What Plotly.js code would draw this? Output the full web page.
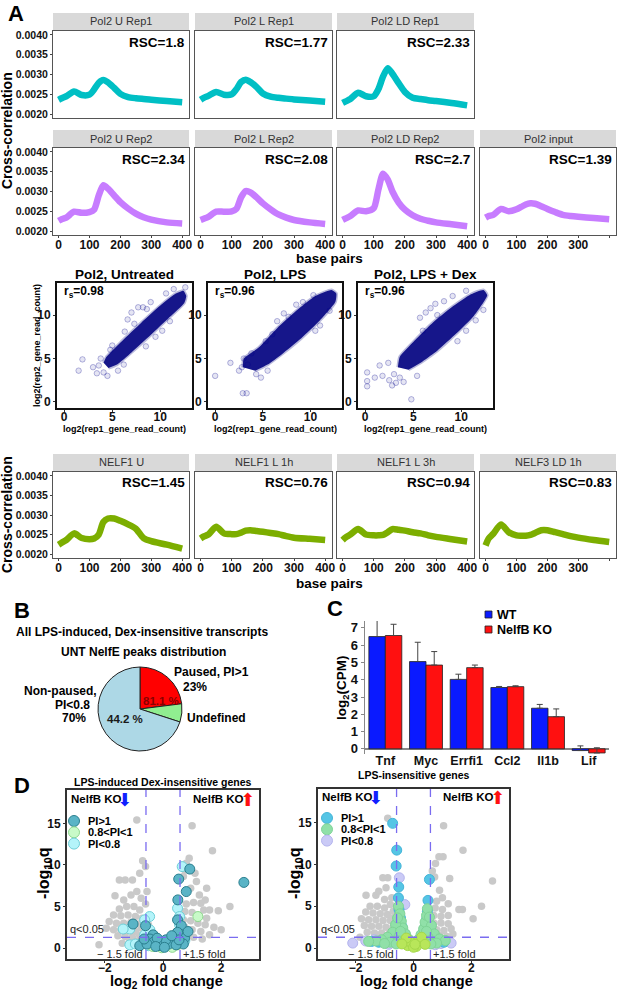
<!DOCTYPE html>
<html>
<head>
<meta charset="utf-8">
<script src="https://cdn.plot.ly/plotly-3.0.1.min.js"></script>
<style>
  html, body { margin: 0; padding: 0; background: #fff; }
  #plot { width: 617px; height: 990px; }
</style>
</head>
<body>
<div id="plot"></div>
<script>
// ---- data ----
var bp = [0, 10, 25, 50, 75, 100, 115, 130, 145, 160, 180, 200, 225, 250, 275, 300, 350, 400];

var pol2URep1  = [0.00236,0.00240,0.00245,0.00257,0.00248,0.00249,0.00262,0.00279,0.00286,0.00280,0.00266,0.00251,0.00243,0.00240,0.00238,0.00236,0.00233,0.00230];
var pol2LRep1  = [0.00236,0.00241,0.00246,0.00256,0.00249,0.00250,0.00263,0.00281,0.00287,0.00281,0.00268,0.00252,0.00244,0.00241,0.00239,0.00237,0.00234,0.00231];
var pol2LDRep1 = [0.00228,0.00232,0.00238,0.00254,0.00245,0.00245,0.00263,0.00295,0.00316,0.00302,0.00278,0.00256,0.00241,0.00238,0.00235,0.00233,0.00228,0.00222];
var pol2URep2  = [0.00226,0.00230,0.00234,0.00249,0.00246,0.00248,0.00254,0.00290,0.00316,0.00307,0.00290,0.00273,0.00257,0.00244,0.00235,0.00229,0.00222,0.00219];
var pol2LRep2  = [0.00228,0.00231,0.00236,0.00249,0.00249,0.00250,0.00256,0.00285,0.00301,0.00298,0.00285,0.00270,0.00255,0.00242,0.00234,0.00228,0.00222,0.00218];
var pol2LDRep2 = [0.00228,0.00232,0.00238,0.00252,0.00250,0.00258,0.00305,0.00345,0.00330,0.00300,0.00272,0.00254,0.00240,0.00231,0.00226,0.00222,0.00217,0.00212];
var pol2Input  = [0.00234,0.00238,0.00241,0.00256,0.00250,0.00255,0.00261,0.00267,0.00270,0.00269,0.00263,0.00256,0.00248,0.00241,0.00238,0.00236,0.00233,0.00230];
var nelf1U     = [0.00224,0.00229,0.00236,0.00253,0.00241,0.00238,0.00240,0.00250,0.00282,0.00291,0.00291,0.00285,0.00276,0.00265,0.00241,0.00233,0.00224,0.00214];
var nelf1L1h   = [0.00240,0.00245,0.00250,0.00270,0.00253,0.00251,0.00251,0.00255,0.00260,0.00261,0.00259,0.00257,0.00254,0.00251,0.00246,0.00242,0.00239,0.00236];
var nelf1L3h   = [0.00236,0.00243,0.00250,0.00264,0.00250,0.00248,0.00248,0.00249,0.00256,0.00264,0.00262,0.00260,0.00256,0.00253,0.00248,0.00244,0.00238,0.00232];
var nelf3LD1h  = [0.00222,0.00240,0.00252,0.00276,0.00256,0.00248,0.00247,0.00247,0.00249,0.00254,0.00261,0.00261,0.00256,0.00251,0.00246,0.00242,0.00236,0.00231];

var ccTitles = ['Pol2 U Rep1','Pol2 L Rep1','Pol2 LD Rep1','Pol2 U Rep2','Pol2 L Rep2','Pol2 LD Rep2','Pol2 input','NELF1 U','NELF1 L 1h','NELF1 L 3h','NELF3 LD 1h'];
var ccRSC = ['RSC=1.8','RSC=1.77','RSC=2.33','RSC=2.34','RSC=2.08','RSC=2.7','RSC=1.39','RSC=1.45','RSC=0.76','RSC=0.94','RSC=0.83'];
var ccValues = [pol2URep1, pol2LRep1, pol2LDRep1, pol2URep2, pol2LRep2, pol2LDRep2, pol2Input, nelf1U, nelf1L1h, nelf1L3h, nelf3LD1h];

// replicate scatter: dense core outline + visible outliers (log2 read counts)
var scTitles = ['Pol2, Untreated', 'Pol2, LPS', 'Pol2, LPS + Dex'];
var scRs = ['0.98', '0.96', '0.96'];
var sc1Core = [[4.1,4.5],[4.4,5.2],[6,7.0],[8,9.1],[10,11.1],[11.5,12.4],[12.4,12.8],[12.7,12.2],[12.5,11.4],[11,9.8],[9,7.7],[7,5.7],[5.5,4.3],[4.6,3.9]];
var sc2Core = [[2.9,4.0],[3.0,5.0],[4.5,6.2],[6.5,8.5],[8.5,10.5],[10.5,12.2],[12.2,12.9],[12.7,12.5],[12.6,11.5],[11,9.4],[9,7.3],[7,5.5],[5.5,4.3],[4.2,3.6]];
var sc3Core = [[3.4,4.0],[3.6,5.2],[5.0,6.9],[7,9.1],[9,10.9],[11,12.4],[12.3,12.9],[12.7,12.3],[11.3,9.9],[9.5,7.9],[7.5,5.9],[6,4.7],[4.5,3.7]];
var sc1Out = [[1.5,3.6],[1.9,4.9],[3.0,4.0],[3.4,3.3],[3.6,4.2],[4.1,3.4],[4.5,3.0],[3.8,5.0],[6.6,9.5],[7.0,10.3],[7.7,10.9],[8.2,10.9],[8.6,10.7],[7.3,9.0],[6.3,8.1],[9.0,11.5],[10.6,12.5],[11.4,13.0],[10.2,8.2],[11.0,9.3],[9.5,7.5],[5.6,3.6],[6.2,4.3],[8.5,6.4],[12.6,13.2],[5.0,6.5],[4.8,6.0]];
var sc2Out = [[0,3.0],[2.9,1.0],[3.3,1.0],[1.6,4.5],[2.8,4.0],[3.4,4.3],[3.0,5.0],[6.5,9.3],[7.2,10.2],[7.7,9.8],[8.5,11.2],[9.2,11.5],[10.3,12.3],[11.0,8.8],[10.5,8.2],[12.0,10.5],[4.8,2.8],[5.5,3.6],[4.3,3.2],[5.3,7.0],[6.0,7.8],[2.5,3.6],[3.8,5.6]];
var sc3Out = [[0.2,3.4],[0.2,2.4],[0.2,1.8],[1.0,2.8],[1.8,3.0],[2.5,2.5],[2.8,1.9],[3.2,2.2],[4.0,2.3],[4.8,0.3],[5.4,3.0],[1.5,4.2],[2.4,4.5],[5.7,9.7],[6.3,10.3],[6.8,10.8],[7.3,11.3],[8.2,11.6],[9.1,12.2],[10.5,12.8],[7.5,10.0],[9.6,7.0],[10.5,8.2],[11.5,9.4],[12.3,10.6],[6.0,8.2],[3.0,3.2],[3.6,2.8]];

// panel B pie
var pieLabels = ['Paused, PI>1', 'Undefined', 'Non-paused, PI<0.8'];
var pieValues = [23, 7, 70];

// panel C bars
var genes = ['Tnf', 'Myc', 'Errfi1', 'Ccl2', 'Il1b', 'Lif'];
var wtVals = [6.50, 5.05, 4.02, 3.55, 2.35, -0.10];
var wtErr  = [0.93, 1.12, 0.30, 0.06, 0.22, 0.27];
var koVals = [6.56, 4.85, 4.70, 3.60, 1.86, -0.24];
var koErr  = [0.65, 0.78, 0.15, 0.05, 0.45, 0.30];

// panel D volcano (log2 fold change, -log10 q)
var volcLGray = [[-0.9,15.4],[1.0,14.7],[1.7,11.7],[0.9,10.8],[0.8,10.2],[-0.7,10.5],[-0.6,9.8],[-0.8,9.0],[-1.05,8.2],[-1.3,8.2],[-1.5,8.2],[0.75,9.4],[0.7,8.6],[1.1,9.0],[1.15,8.0],[1.5,7.2],[1.25,6.4],[0.95,7.2],[-1.65,6.3],[-1.35,5.8],[-1.1,6.4],[-0.9,6.8],[-0.75,6.0],[-1.25,5.0],[-1.0,5.0],[-0.8,4.6],[-1.5,4.7],[-1.7,4.0],[-1.45,3.9],[-1.2,4.0],[-0.95,3.8],[-0.72,3.6],[-1.85,3.2],[-1.6,3.0],[-1.35,3.0],[-1.1,3.1],[-0.85,2.9],[-1.95,2.4],[-1.7,2.2],[-1.45,2.2],[-1.2,2.1],[-0.95,2.0],[-0.75,2.4],[-1.55,1.5],[-1.3,1.4],[-1.05,1.3],[-0.8,1.5],[-2.2,0.4],[-1.4,0.6],[-1.15,0.8],[-0.9,0.8],[1.4,4.6],[1.6,4.6],[2.3,5.0],[0.8,5.3],[1.05,5.5],[1.3,5.4],[0.75,4.4],[1.0,4.3],[1.25,3.9],[1.5,3.6],[0.7,3.4],[0.95,3.3],[1.2,3.0],[1.45,2.8],[1.75,2.5],[0.75,2.5],[1.0,2.2],[1.3,2.0],[1.6,1.6],[0.8,1.6],[1.05,1.3],[1.35,1.1],[-0.5,2.8],[-0.45,1.8],[0.45,2.0],[0.42,1.2],[-0.6,0.9],[0.6,0.8],[2.0,2.2],[0.55,4.0],[-0.3,0.5],[0.3,0.4],[-0.15,0.9],[0.15,0.8],[-0.4,1.4],[0.35,1.5],[1.9,4.5],[1.45,5.8],[-0.55,6.8],[-0.6,5.3]];
var volcLPaused = [[2.78,7.9],[0.92,9.5],[0.54,8.3],[0.8,6.8],[0.51,5.8],[-1.03,2.9],[-0.6,2.7],[0.5,3.4],[0.63,2.7],[-0.34,1.6],[0.69,1.6],[-0.8,0.3],[-0.51,0.8],[0.74,1.2],[0.86,2.0],[0.5,1.9],[-0.45,1.1],[-0.3,0.8],[0.35,0.9],[-0.55,0.5],[0.7,0.5],[-0.1,0.3],[0.2,0.5],[0.1,1.0],[-0.2,1.2],[0.45,0.4],[0.55,1.0],[-0.65,1.1],[0.3,1.5],[-0.25,0.2],[0.05,0.1]];
var volcLMid = [[1.2,3.8],[0.1,0.2],[-0.1,0.5],[0.25,0.3],[0.05,0.6],[-0.25,0.45],[0.32,0.1],[0.4,0.75],[-0.35,0.2],[0.15,0.9],[-0.05,0.05],[0.5,0.4]];
var volcLNonpaused = [[0.66,9.8],[0.5,4.8],[0.57,3.8],[-0.46,3.8],[-0.63,3.4],[-1.14,2.3],[-1.37,2.3],[-0.63,1.6],[0.57,2.8],[-0.8,0.45],[-1.14,0.4],[-0.95,0.5],[0.62,2.0],[-0.45,2.2],[-0.2,0.6],[0.25,0.7],[0.4,1.3],[-0.5,0.3],[0.75,0.9],[-0.3,1.3]];

var volcRGray = [[-0.89,15.5],[1.04,14.6],[1.71,11.7],[0.88,10.9],[1.02,10.9],[0.76,10.1],[0.65,9.2],[0.73,8.5],[1.25,8.3],[2.73,8.0],[-0.89,8.4],[-1.06,8.4],[-1.64,6.3],[-1.3,6.3],[-1.2,6.8],[-1.0,5.8],[2.35,5.0],[1.57,4.6],[1.69,4.6],[2.06,3.5],[1.36,1.7],[0.9,6.9],[1.0,6.0],[0.8,5.6],[1.2,5.3],[-1.5,5.0],[-1.25,5.0],[-1.0,4.8],[-0.8,5.2],[-1.65,4.3],[-1.4,4.2],[-1.15,4.1],[-0.9,4.0],[-0.7,4.4],[-1.8,3.5],[-1.55,3.4],[-1.3,3.4],[-1.05,3.3],[-0.8,3.3],[-1.7,2.7],[-1.45,2.6],[-1.2,2.6],[-0.95,2.5],[-0.7,2.6],[-1.6,1.9],[-1.35,1.8],[-1.1,1.8],[-0.85,1.7],[-1.85,1.3],[-1.2,1.2],[-0.95,1.2],[-0.7,3.6],[-0.75,6.0],[-0.95,7.2],[0.75,4.8],[1.0,4.6],[0.7,3.9],[0.95,3.8],[1.2,3.9],[0.7,3.0],[0.95,3.0],[1.2,2.9],[0.8,2.2],[1.05,2.1],[1.3,2.3],[0.9,1.5],[1.15,1.4],[0.75,1.5]];
var volcRPaused = [[-0.72,14.9],[-0.58,11.7],[-0.6,9.8],[-0.51,7.3],[-0.52,6.0],[0.55,8.2],[0.5,5.7],[-0.5,4.6],[0.48,4.4],[-0.45,3.6],[0.45,3.4],[-0.4,2.6],[0.4,2.5],[-0.3,1.7],[0.32,1.6],[-0.9,0.9],[0.85,0.9],[-1.2,0.7],[-0.65,1.1],[0.62,1.2],[-1.45,0.8],[1.05,0.7],[-0.6,2.0],[0.6,2.1],[-0.2,0.6],[0.2,0.6]];
var volcRMid = [[-0.52,5.0],[-0.47,4.1],[-0.42,3.2],[-0.37,2.4],[-0.28,1.7],[-0.18,1.1],[0.0,0.5],[0.16,1.0],[0.26,1.6],[0.35,2.3],[0.4,3.1],[0.45,3.9],[0.48,4.7],[-0.62,2.8],[-0.72,1.9],[-0.9,1.3],[-1.1,1.0],[-1.3,0.85],[-1.55,0.8],[0.62,2.7],[0.72,1.7],[0.9,1.1],[1.1,0.9],[-0.55,3.6],[0.55,3.7],[-0.5,1.4],[0.5,1.3],[-0.8,0.7],[0.8,0.6],[-0.35,0.8],[0.35,0.8],[-1.0,0.55],[-0.6,0.5],[0.6,0.5],[-0.45,2.0],[0.45,2.0]];
var volcRCenter = [[-0.2,0.3],[0.1,0.2],[-0.1,0.7],[0.2,0.9],[-0.25,1.2],[0.28,1.3],[0,0.1],[-0.4,0.5],[0.4,0.45],[0.05,0.45]];
var volcRNonpaused = [[-0.49,8.4],[-2.1,0.6],[-1.65,0.85],[1.2,0.8],[0.95,0.55],[-1.35,1.0],[0.75,0.4],[-0.3,5.2],[-0.85,0.45],[1.3,0.6]];

// ---- layout helpers (pixel positions in a 617x990 page) ----
var W = 617, H = 990;
var FONT = 'Liberation Sans, Arial, Helvetica, sans-serif';
function dom(a, b, isY) { return isY ? [1 - b / H, 1 - a / H] : [a / W, b / W]; }
function ann(text, x, y, size, o) {
    o = o || {};
    return {
        xref: 'paper', yref: 'paper', x: x / W, y: 1 - y / H, text: text, showarrow: false,
        font: { family: o.family || FONT, size: size, color: o.color || '#000' },
        xanchor: o.xanchor || 'center', yanchor: o.yanchor || 'middle', textangle: o.angle || 0
    };
}
function xs(pts) { return pts.map(function(p) { return p[0]; }); }
function ys(pts) { return pts.map(function(p) { return p[1]; }); }
function bold(size) { return { family: FONT, size: size, color: '#111', weight: 'bold' }; }

var traces = [], shapes = [], anns = [];
var layout = {
    width: W, height: H, margin: { l: 0, r: 0, t: 0, b: 0 },
    paper_bgcolor: '#fff', plot_bgcolor: '#fff', showlegend: false, hovermode: false
};

// ---- panel A: cross-correlation ----
var ccCols = [[53, 189], [195, 332], [337, 474], [480, 616]];
var ccRows = [[31, 118], [148, 235], [472, 558]];
var ccGrid = [[0,0],[0,1],[0,2],[1,0],[1,1],[1,2],[1,3],[2,0],[2,1],[2,2],[2,3]];
var ccColors = ['#00bfc4', '#c77cff', '#7cae00'];

for (var i = 0; i < ccTitles.length; i++) {
    var r = ccGrid[i][0], c = ccGrid[i][1], n = i + 1, s = n === 1 ? '' : String(n);
    var xr = ccCols[c], yr = ccRows[r];
    traces.push({
        x: bp, y: ccValues[i], xaxis: 'x' + s, yaxis: 'y' + s, type: 'scatter', mode: 'lines',
        line: { color: ccColors[r], width: 6.5, shape: 'spline', smoothing: 0.7 }, hoverinfo: 'skip'
    });
    layout['xaxis' + s] = {
        domain: dom(xr[0], xr[1]), anchor: 'y' + s, range: [-18, 422], tickvals: [0, 100, 200, 300, 400],
        showticklabels: r > 0, ticks: r > 0 ? 'outside' : '', ticklen: 2, tickcolor: '#444', ticklabelstandoff: -3,
        showline: true, mirror: true, linecolor: '#555', linewidth: 1, showgrid: false, zeroline: false,
        tickfont: bold(12)
    };
    layout['yaxis' + s] = {
        domain: dom(yr[0], yr[1], true), anchor: 'x' + s, range: [0.0019, 0.0041],
        tickvals: [0.002, 0.0025, 0.003, 0.0035, 0.004], ticktext: ['0.0020', '0.0025', '0.0030', '0.0035', '0.0040'],
        showticklabels: c === 0, ticks: c === 0 ? 'outside' : '', ticklen: 2, tickcolor: '#444',
        showline: true, mirror: true, linecolor: '#555', linewidth: 1, showgrid: false, zeroline: false,
        tickfont: bold(10.5)
    };
    shapes.push({ type: 'rect', xref: 'paper', yref: 'paper', x0: xr[0] / W, x1: xr[1] / W,
        y0: 1 - (yr[0] - 1) / H, y1: 1 - (yr[0] - 18) / H, fillcolor: '#d9d9d9', line: { width: 0 } });
    anns.push(ann(ccTitles[i], (xr[0] + xr[1]) / 2, yr[0] - 9.5, 11, { color: '#333' }));
    anns.push(ann('<b>' + ccRSC[i] + '</b>', xr[1] - 2, yr[0] + 11, 13.5, { xanchor: 'right' }));
}
anns.push(ann('<b>A</b>', 16, 14, 22));
anns.push(ann('<b>Cross-correlation</b>', 7, 131, 14, { angle: -90 }));
anns.push(ann('<b>Cross-correlation</b>', 7, 515, 14, { angle: -90 }));
anns.push(ann('<b>base pairs</b>', 330, 258, 13.5));
anns.push(ann('<b>base pairs</b>', 330, 583, 13.5));

// ---- panel A: replicate scatter ----
var scCols = [[57, 192], [208, 342], [358, 493]];
var scCores = [sc1Core, sc2Core, sc3Core];
var scOuts = [sc1Out, sc2Out, sc3Out];
for (var j = 0; j < 3; j++) {
    var m = String(12 + j);
    traces.push({
        x: xs(scCores[j]), y: ys(scCores[j]), xaxis: 'x' + m, yaxis: 'y' + m, type: 'scatter', mode: 'lines',
        fill: 'toself', fillcolor: '#16168a', line: { color: 'rgba(22,22,138,0.3)', width: 3, shape: 'spline', smoothing: 0.5 },
        hoverinfo: 'skip'
    });
    traces.push({
        x: xs(scOuts[j]), y: ys(scOuts[j]), xaxis: 'x' + m, yaxis: 'y' + m, type: 'scatter', mode: 'markers',
        marker: { size: 5.5, color: 'rgba(0,0,140,0.1)', line: { color: 'rgba(0,0,140,0.28)', width: 1 } },
        hoverinfo: 'skip'
    });
    layout['xaxis' + m] = {
        domain: dom(scCols[j][0], scCols[j][1]), anchor: 'y' + m, range: [-0.75, 13.3], tickvals: [0, 5, 10],
        ticks: 'outside', ticklen: 2, tickcolor: '#333', ticklabelstandoff: -5,
        showline: true, mirror: true, linecolor: '#111', linewidth: 2,
        showgrid: false, zeroline: false, tickfont: bold(12)
    };
    layout['yaxis' + m] = {
        domain: dom(283, 408, true), anchor: 'x' + m, range: [-0.7, 13.7], tickvals: [0, 5, 10],
        ticks: 'outside', ticklen: 2, tickcolor: '#333', showline: true, mirror: true, linecolor: '#111', linewidth: 2,
        showgrid: false, zeroline: false, tickfont: bold(12)
    };
    var cx = (scCols[j][0] + scCols[j][1]) / 2;
    anns.push(ann('<b>' + scTitles[j] + '</b>', cx, 274, 13.5));
    anns.push(ann('<b>r<sub>s</sub>=' + scRs[j] + '</b>', scCols[j][0] + 5, 292, 12, { xanchor: 'left' }));
    anns.push(ann('<b>log2(rep1_gene_read_count)</b>', cx, 429, 9));
}
anns.push(ann('<b>log2(rep2_gene_read_count)</b>', 37, 346, 9, { angle: -90 }));

// ---- panel B: pie ----
traces.push({
    type: 'pie', labels: pieLabels, values: pieValues, sort: false, direction: 'clockwise', rotation: 0,
    marker: { colors: ['#ff0000', '#90ee90', '#add8e6'], line: { color: '#222', width: 1 } },
    textinfo: 'none', hoverinfo: 'skip', showlegend: false,
    domain: { x: dom(98, 182), y: dom(667, 751, true) }
});
anns.push(ann('<b>B</b>', 22, 610, 22));
anns.push(ann('<b>All LPS-induced, Dex-insensitive transcripts</b>', 14, 632, 12, { xanchor: 'left' }));
anns.push(ann('<b>UNT NelfE peaks distribution</b>', 143, 652, 12));
anns.push(ann('<b>Paused, PI>1</b>', 172, 672, 12, { xanchor: 'left' }));
anns.push(ann('<b>23%</b>', 195, 687, 12));
anns.push(ann('<b>Undefined</b>', 185, 718, 12, { xanchor: 'left' }));
anns.push(ann('<b>Non-paused,</b>', 60, 691, 12));
anns.push(ann('<b>PI<0.8</b>', 72, 705, 12));
anns.push(ann('<b>70%</b>', 74, 718, 12));
anns.push(ann('<b>81.1 %</b>', 161, 701, 11.5, { color: '#8b0000' }));
anns.push(ann('<b>44.2 %</b>', 125, 719, 11.5, { color: '#1a1a1a' }));

// ---- panel C: bars ----
traces.push({
    type: 'bar', name: 'WT', x: genes, y: wtVals, xaxis: 'x15', yaxis: 'y15',
    marker: { color: '#0a1aff', line: { color: '#222', width: 0.8 } },
    error_y: { type: 'data', symmetric: false, array: wtErr, arrayminus: wtErr.map(function() { return 0; }), color: '#444', thickness: 1, width: 3 },
    hoverinfo: 'skip'
});
traces.push({
    type: 'bar', name: 'NelfB KO', x: genes, y: koVals, xaxis: 'x15', yaxis: 'y15',
    marker: { color: '#ff1010', line: { color: '#222', width: 0.8 } },
    error_y: { type: 'data', symmetric: false, array: koErr, arrayminus: koErr.map(function() { return 0; }), color: '#444', thickness: 1, width: 3 },
    hoverinfo: 'skip'
});
layout.barmode = 'group';
layout.bargap = 0.19;
layout.bargroupgap = 0;
layout.xaxis15 = {
    domain: dom(365, 609), anchor: 'y15', type: 'category', showline: false, ticks: '', showgrid: false,
    ticklabelstandoff: -3, tickfont: bold(12.5)
};
layout.yaxis15 = {
    domain: dom(621, 754, true), anchor: 'x15', range: [-0.3, 7.4], tickvals: [0, 1, 2, 3, 4, 5, 6, 7],
    showline: true, linecolor: '#888', linewidth: 1.5, ticks: 'outside', ticklen: 3, tickcolor: '#888',
    zeroline: true, zerolinecolor: '#888', zerolinewidth: 1.5, showgrid: false, tickfont: bold(13)
};
anns.push(ann('<b>C</b>', 335, 608, 22));
anns.push(ann('<b>log<sub>2</sub>(CPM)</b>', 342, 687, 13.5, { angle: -90 }));
shapes.push({ type: 'rect', xref: 'paper', yref: 'paper', x0: 485 / W, x1: 492 / W, y0: 1 - 618 / H, y1: 1 - 611 / H, fillcolor: '#0a1aff', line: { color: '#222', width: 0.8 } });
shapes.push({ type: 'rect', xref: 'paper', yref: 'paper', x0: 485 / W, x1: 492 / W, y0: 1 - 633 / H, y1: 1 - 626 / H, fillcolor: '#ff1010', line: { color: '#222', width: 0.8 } });
anns.push(ann('<b>WT</b>', 495, 615, 12.5, { xanchor: 'left' }));
anns.push(ann('<b>NelfB KO</b>', 495, 630, 12.5, { xanchor: 'left' }));

// ---- panel D: volcano ----
var volc = [
    { ax: '16', cols: [67, 259], top: 790, groups: [
        [volcLGray, '#c9c9c9', 'rgba(0,0,0,0)', 7.5],
        [volcLNonpaused, '#b4f4fa', '#6fcfd8', 10],
        [volcLMid, '#c8fac8', '#8fd88f', 10],
        [volcLPaused, '#5ab4c6', '#2b7f8f', 10]
    ], legend: [['PI>1', '#5ab4c6', '#2b7f8f'], ['0.8<PI<1', '#c8fac8', '#8fd88f'], ['PI<0.8', '#b4f4fa', '#6fcfd8']],
      legX: 74, legY: 821, title: 'LPS-induced Dex-insensitive genes', titleY: 782, koY: 799 },
    { ax: '17', cols: [318, 509], top: 789, groups: [
        [volcRGray, '#c9c9c9', 'rgba(0,0,0,0)', 7.5],
        [volcRNonpaused, '#cacaf6', '#b4b4ee', 10],
        [volcRPaused, '#55c5e5', '#45b5d8', 10],
        [volcRMid, '#90e0a8', '#7fd496', 10],
        [volcRCenter, '#b8e65a', '#a5d84a', 10]
    ], legend: [['PI>1', '#55c5e5', '#45b5d8'], ['0.8<PI<1', '#90e0a8', '#7fd496'], ['PI<0.8', '#cacaf6', '#b4b4ee']],
      legX: 327, legY: 818, title: 'LPS-insensitive genes', titleY: 775, koY: 797 }
];
volc.forEach(function(v) {
    v.groups.forEach(function(g) {
        traces.push({
            x: xs(g[0]), y: ys(g[0]), xaxis: 'x' + v.ax, yaxis: 'y' + v.ax, type: 'scatter', mode: 'markers',
            marker: { size: g[3], color: g[1], line: { color: g[2], width: 1 } }, hoverinfo: 'skip'
        });
    });
    layout['xaxis' + v.ax] = {
        domain: dom(v.cols[0], v.cols[1]), anchor: 'y' + v.ax, range: [-3.3, 3.3], tickvals: [-2, 0, 2],
        ticks: 'outside', ticklen: 2, tickcolor: '#333', ticklabelstandoff: -5,
        showline: true, mirror: true, linecolor: '#333', linewidth: 2,
        showgrid: false, zeroline: false, tickfont: bold(12)
    };
    layout['yaxis' + v.ax] = {
        domain: dom(v.top, 959, true), anchor: 'x' + v.ax, range: [-1.3, 19], tickvals: [0, 5, 10, 15],
        ticks: 'outside', ticklen: 2, tickcolor: '#333', showline: true, mirror: true, linecolor: '#333', linewidth: 2,
        showgrid: false, zeroline: false, tickfont: bold(12)
    };
    var dash = { color: '#7a6cf0', width: 1.3, dash: 'dash' };
    [-0.585, 0.585].forEach(function(xv) {
        shapes.push({ type: 'line', xref: 'x' + v.ax, yref: 'y' + v.ax + ' domain', x0: xv, x1: xv, y0: 0, y1: 1, line: dash });
    });
    shapes.push({ type: 'line', xref: 'x' + v.ax + ' domain', yref: 'y' + v.ax, x0: 0, x1: 1, y0: 1.3, y1: 1.3, line: dash });
    var small = { family: FONT, size: 11, color: '#222' };
    anns.push({ xref: 'x' + v.ax, yref: 'y' + v.ax, x: -3.25, y: 1.35, text: 'q<0.05', showarrow: false, xanchor: 'left', yanchor: 'bottom', font: small });
    anns.push({ xref: 'x' + v.ax, yref: 'y' + v.ax, x: -0.62, y: -0.7, text: '\u2212 1.5 fold', showarrow: false, xanchor: 'right', yanchor: 'middle', font: small });
    anns.push({ xref: 'x' + v.ax, yref: 'y' + v.ax, x: 0.62, y: -0.7, text: '+1.5 fold', showarrow: false, xanchor: 'left', yanchor: 'middle', font: small });
    v.legend.forEach(function(l, k) {
        var cy = v.legY + k * 11.3;
        shapes.push({ type: 'circle', xref: 'paper', yref: 'paper', x0: (v.legX - 5.5) / W, x1: (v.legX + 5.5) / W,
            y0: 1 - (cy + 5.5) / H, y1: 1 - (cy - 5.5) / H, fillcolor: l[1], line: { color: l[2], width: 1 } });
        anns.push(ann('<b>' + l[0] + '</b>', v.legX + 12, cy, 11, { xanchor: 'left' }));
    });
    var x0 = v.cols[0], x1 = v.cols[1];
    anns.push(ann('<b>' + v.title + '</b>', (x0 + x1) / 2, v.titleY, 10.5));
    anns.push(ann('<b>NelfB KO</b>', x0 + 29, v.koY, 11.5));
    anns.push(ann('\u2B07', x0 + 57, v.koY, 18, { color: '#1020ff', family: 'DejaVu Sans' }));
    anns.push(ann('<b>NelfB KO</b>', x1 - 41, v.koY, 11.5));
    anns.push(ann('\u2B06', x1 - 12, v.koY, 18, { color: '#ff1010', family: 'DejaVu Sans' }));
    anns.push(ann('<b>log<sub>2</sub> fold change</b>', (x0 + x1) / 2 + 3, 982, 14.5));
    anns.push(ann('<b>-log<sub>10</sub>q</b>', x0 - 23, 873, 16, { angle: -90 }));
});
anns.push(ann('<b>D</b>', 22, 785, 22));

layout.shapes = shapes;
layout.annotations = anns;
Plotly.newPlot('plot', traces, layout, { staticPlot: true, displayModeBar: false });
</script>
</body>
</html>
